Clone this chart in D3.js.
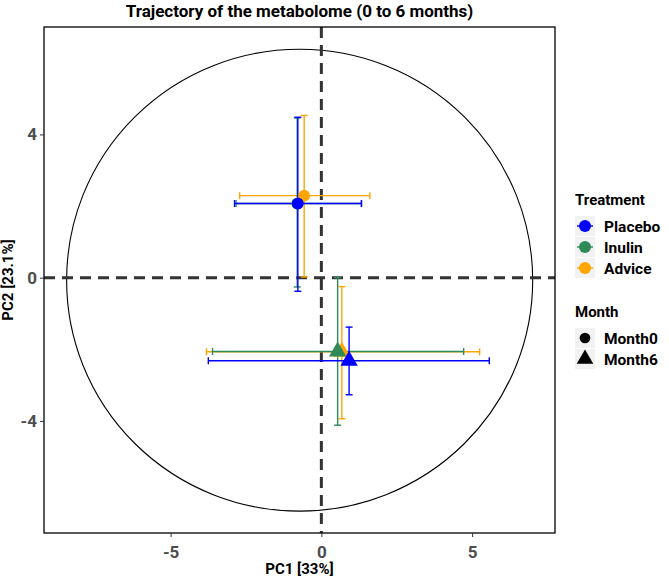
<!DOCTYPE html>
<html><head><meta charset="utf-8">
<script src="https://cdn.jsdelivr.net/npm/d3@7"></script>
<style>body{margin:0;background:#fff;font-family:Roboto,"Liberation Sans",Arial,sans-serif}</style>
</head><body><div id="chart"></div>
<script>
var treatments=["Placebo","Inulin","Advice"];
var colors=["#0000ff","#2e8b57","#ffa500"];
var months=["Month0","Month6"];
// points (drawn in this order): treatment, month, x, y, xmin, xmax, ymin, ymax
var pTreat=["Advice","Inulin","Placebo","Advice","Inulin","Placebo"];
var pMonth=["Month0","Month0","Month0","Month6","Month6","Month6"];
var pcx=[-0.57,-0.80,-0.78,0.68,0.54,0.92];
var pcy=[2.29,2.07,2.07,-2.07,-2.06,-2.32];
var xlo=[-2.71,-2.83,-2.88,-3.81,-3.61,-3.75];
var xhi=[1.61,1.33,1.33,5.25,4.72,5.57];
var ylo=[0.02,-0.26,-0.38,-3.94,-4.12,-3.27];
var yhi=[4.53,4.46,4.48,-0.25,0.0,-1.38];
var ell={cx:-0.72,cy:-0.07,rx:7.73,ry:6.45};
var xTicks=[-5,0,5],yTicks=[-4,0,4];

var W=669,H=578,L=44,R=555,T=27,B=533;
var svg=d3.select("#chart").append("svg").attr("width",W).attr("height",H);
var x=d3.scaleLinear().domain([-9.2,7.75]).range([L,R]);
var y=d3.scaleLinear().domain([-7.13,7.0]).range([B,T]);
var col=d3.scaleOrdinal().domain(treatments).range(colors);

svg.append("text").attr("x",(L+R)/2).attr("y",17).attr("text-anchor","middle")
  .attr("font-size",17).attr("font-weight","bold").text("Trajectory of the metabolome (0 to 6 months)");

var g=svg.append("g");
g.append("clipPath").attr("id","cp").append("rect").attr("x",L).attr("y",T).attr("width",R-L).attr("height",B-T);
var pg=g.append("g").attr("clip-path","url(#cp)");
pg.append("ellipse").attr("cx",x(ell.cx)).attr("cy",y(ell.cy))
  .attr("rx",x(ell.rx)-x(0)).attr("ry",y(0)-y(ell.ry)).attr("fill","none").attr("stroke","#000").attr("stroke-width",1.1);
pg.append("line").attr("x1",x(0)).attr("x2",x(0)).attr("y1",T).attr("y2",B)
  .attr("stroke","#333").attr("stroke-width",3).attr("stroke-dasharray","11,7");
pg.append("line").attr("y1",y(0)).attr("y2",y(0)).attr("x1",L).attr("x2",R)
  .attr("stroke","#333").attr("stroke-width",3).attr("stroke-dasharray","11,7");

var idx=d3.range(pcx.length);
var cap=3.5;
idx.forEach(function(i){
  var c=col(pTreat[i]);
  var e=pg.append("g").attr("stroke",c).attr("stroke-width",1.4).attr("fill","none");
  e.append("line").attr("x1",x(xlo[i])).attr("x2",x(xhi[i])).attr("y1",y(pcy[i])).attr("y2",y(pcy[i]));
  e.append("line").attr("x1",x(xlo[i])).attr("x2",x(xlo[i])).attr("y1",y(pcy[i])-cap).attr("y2",y(pcy[i])+cap);
  e.append("line").attr("x1",x(xhi[i])).attr("x2",x(xhi[i])).attr("y1",y(pcy[i])-cap).attr("y2",y(pcy[i])+cap);
  e.append("line").attr("x1",x(pcx[i])).attr("x2",x(pcx[i])).attr("y1",y(ylo[i])).attr("y2",y(yhi[i]));
  e.append("line").attr("x1",x(pcx[i])-cap).attr("x2",x(pcx[i])+cap).attr("y1",y(ylo[i])).attr("y2",y(ylo[i]));
  e.append("line").attr("x1",x(pcx[i])-cap).attr("x2",x(pcx[i])+cap).attr("y1",y(yhi[i])).attr("y2",y(yhi[i]));
});
var sym=d3.scaleOrdinal().domain(months).range([d3.symbolCircle,d3.symbolTriangle]);
idx.forEach(function(i){
  pg.append("path").attr("d",d3.symbol().type(sym(pMonth[i])).size(pMonth[i]=="Month0"?110:130)())
    .attr("transform","translate("+x(pcx[i])+","+y(pcy[i])+")").attr("fill",col(pTreat[i]));
});
g.append("rect").attr("x",L).attr("y",T).attr("width",R-L).attr("height",B-T)
  .attr("fill","none").attr("stroke","#000").attr("stroke-width",1.3);

var xa=svg.append("g").attr("transform","translate(0,"+B+")")
  .call(d3.axisBottom(x).tickValues(xTicks).tickSize(4).tickFormat(function(d){return String(d);}));
var ya=svg.append("g").attr("transform","translate("+L+",0)")
  .call(d3.axisLeft(y).tickValues(yTicks).tickSize(4).tickFormat(function(d){return String(d);}));
[xa,ya].forEach(function(a){
  a.select(".domain").remove();
  a.selectAll("line").attr("stroke","#333");
  a.selectAll("text").attr("font-size",17).attr("font-weight","bold").attr("fill","#4d4d4d").attr("font-family","Roboto,Liberation Sans,Arial");
});
xa.selectAll("text").attr("dy","1.05em");
svg.append("text").attr("x",(L+R)/2).attr("y",574).attr("text-anchor","middle")
  .attr("font-size",15).attr("font-weight","bold").text("PC1 [33%]");
svg.append("text").attr("transform","translate(13,"+((T+B)/2)+") rotate(-90)").attr("text-anchor","middle")
  .attr("font-size",15).attr("font-weight","bold").text("PC2 [23.1%]");

var lg=svg.append("g").attr("font-weight","bold");
lg.append("text").attr("x",575).attr("y",205).attr("font-size",15).text("Treatment");
treatments.forEach(function(t,i){
  var yy=226+i*21;
  lg.append("rect").attr("x",575).attr("y",yy-10).attr("width",20).attr("height",20).attr("fill","#f2f2f2");
  lg.append("line").attr("x1",577).attr("x2",593).attr("y1",yy).attr("y2",yy).attr("stroke",col(t)).attr("stroke-width",1.4);
  lg.append("circle").attr("cx",585).attr("cy",yy).attr("r",6).attr("fill",col(t));
  lg.append("text").attr("x",604).attr("y",yy+5.5).attr("font-size",15.5).text(t);
});
lg.append("text").attr("x",575).attr("y",317).attr("font-size",15).text("Month");
months.forEach(function(m,i){
  var yy=338+i*21;
  lg.append("rect").attr("x",575).attr("y",yy-10).attr("width",20).attr("height",20).attr("fill","#f2f2f2");
  lg.append("path").attr("d",d3.symbol().type(sym(m)).size(m=="Month0"?90:120)())
    .attr("transform","translate(585,"+yy+")").attr("fill","#000");
  lg.append("text").attr("x",604).attr("y",yy+5.5).attr("font-size",15.5).text(m);
});
</script></body></html>
